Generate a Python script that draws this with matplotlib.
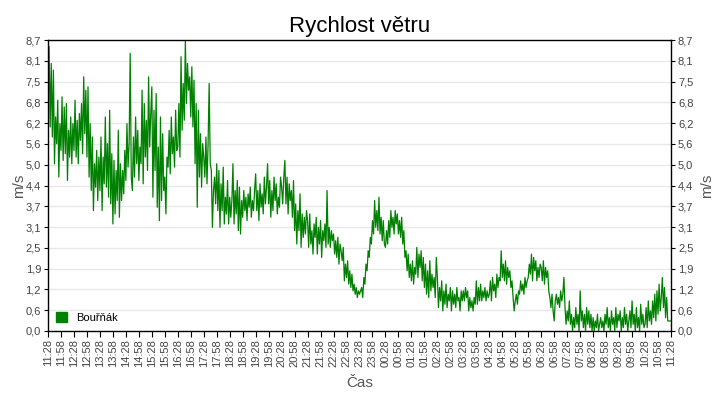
import numpy as np
import matplotlib
matplotlib.use("Agg")
import matplotlib.pyplot as plt
from matplotlib.patches import Patch

plt.rcParams['font.family'] = ['Liberation Sans', 'DejaVu Sans']

title = "Rychlost větru"
series_name = "Bouřňák"
x_label = "Čas"
y_label = "m/s"
sample_minutes = 2.5

wind = [
    7.0, 8.5, 6.1, 8.0, 5.8, 7.8, 5.0, 6.4, 5.6, 6.9, 4.6, 6.2, 5.4, 7.0, 5.1, 6.7, 5.3, 6.8, 4.5, 6.0, 5.2, 6.4, 5.0, 6.2,
    5.4, 6.9, 5.2, 6.3, 5.0, 6.5, 5.7, 6.8, 5.3, 7.6, 5.9, 7.2, 5.2, 7.3, 4.6, 6.2, 4.2, 5.8, 3.6, 5.0, 4.3, 5.4, 3.9, 5.2,
    4.2, 5.8, 3.6, 5.2, 4.4, 6.4, 4.3, 5.6, 4.0, 6.6, 3.8, 5.3, 3.2, 5.1, 3.5, 4.8, 3.9, 6.0, 3.4, 5.0, 3.9, 4.8, 4.1, 5.4,
    4.5, 6.2, 4.9, 5.6, 8.3, 4.6, 4.2, 5.8, 4.6, 6.4, 5.0, 6.0, 4.5, 5.5, 5.0, 7.2, 4.4, 6.8, 5.2, 6.3, 4.8, 7.6, 5.5, 6.5,
    7.3, 4.0, 6.6, 4.8, 7.1, 3.7, 5.5, 3.3, 6.4, 3.9, 5.9, 4.2, 4.6, 3.5, 5.2, 4.9, 6.0, 4.7, 6.4, 5.3, 5.8, 4.9, 6.6, 5.4,
    5.5, 6.8, 5.2, 8.2, 6.0, 7.4, 6.3, 8.7, 6.8, 8.0, 7.2, 7.6, 6.4, 7.9, 6.1, 7.5, 5.0, 6.8, 3.7, 6.6, 4.6, 5.9, 4.3, 5.6,
    5.2, 4.6, 5.8, 4.4, 5.6, 7.4, 5.0, 4.8, 3.1, 4.2, 4.6, 3.8, 5.0, 3.6, 4.8, 3.1, 4.4, 3.6, 4.9, 3.2, 4.0, 3.5, 4.5, 3.2,
    4.0, 3.4, 3.9, 5.0, 3.2, 4.2, 3.5, 4.5, 3.0, 4.3, 2.9, 3.9, 3.4, 4.2, 3.6, 4.0, 3.3, 4.1, 3.7, 4.3, 3.4, 3.9, 3.6, 4.2,
    4.7, 3.6, 4.2, 3.3, 4.4, 3.7, 4.1, 3.5, 4.6, 3.8, 4.3, 5.0, 3.8, 4.5, 3.4, 4.2, 3.6, 4.6, 3.9, 4.4, 3.5, 4.0, 3.7, 4.6,
    4.3, 3.8, 4.6, 5.1, 3.8, 4.6, 3.5, 4.4, 3.9, 4.2, 3.4, 4.5, 3.0, 3.8, 2.6, 3.6, 3.0, 4.1, 2.5, 3.5, 2.8, 3.4, 2.9, 3.6,
    3.3, 2.5, 3.5, 2.6, 3.0, 2.3, 3.2, 2.8, 3.4, 2.3, 3.1, 2.6, 3.3, 2.2, 3.0, 2.7, 3.2, 2.5, 4.2, 2.6, 3.1, 2.5, 3.0, 2.7,
    2.9, 2.3, 2.7, 2.2, 2.8, 2.0, 2.6, 2.4, 2.1, 2.5, 1.5, 2.0, 1.6, 2.1, 1.4, 1.8, 1.3, 1.7, 1.2, 1.4, 1.1, 1.3, 1.0, 1.2,
    1.1, 1.2, 1.3, 1.0, 1.6, 1.4, 2.0, 1.8, 2.4, 2.2, 2.8, 2.6, 3.3, 2.9, 3.9, 3.1, 3.6, 3.0, 4.0, 2.9, 3.4, 2.7, 3.3, 2.6,
    2.5, 3.0, 2.6, 3.3, 2.8, 3.6, 3.1, 3.4, 2.9, 3.6, 3.2, 3.5, 2.9, 3.3, 2.8, 3.4, 2.6, 3.0, 2.2, 2.4, 1.8, 2.3, 1.6, 2.0,
    1.5, 2.1, 1.4, 1.9, 1.7, 2.5, 1.6, 2.3, 1.9, 2.4, 1.5, 2.2, 1.3, 2.0, 1.1, 1.8, 1.0, 2.1, 1.2, 1.7, 1.3, 1.6, 1.0, 2.2,
    1.6, 0.7, 1.3, 0.9, 1.5, 0.6, 1.2, 0.8, 1.4, 0.7, 1.1, 0.9, 1.3, 0.6, 1.2, 0.8, 1.1, 0.7, 1.3, 0.9, 1.0, 0.6, 1.2, 0.9,
    1.2, 0.9, 1.3, 1.0, 1.2, 0.6, 1.0, 0.7, 0.9, 0.6, 1.0, 0.8, 1.5, 0.8, 1.3, 0.9, 1.4, 0.9, 1.2, 1.0, 1.3, 0.9, 1.2, 1.0,
    1.1, 1.5, 0.9, 1.6, 1.2, 1.4, 1.0, 1.7, 1.3, 1.6, 1.5, 2.4, 1.6, 2.0, 1.5, 2.1, 1.4, 1.9, 1.6, 1.8, 1.3, 1.5, 1.0, 0.6,
    0.9, 1.1, 0.8, 1.2, 1.1, 1.5, 1.2, 1.4, 1.1, 1.6, 1.3, 1.5, 1.6, 2.0, 1.7, 2.3, 1.5, 2.2, 1.8, 2.1, 1.5, 1.9, 1.6, 2.0,
    1.9, 1.5, 2.1, 1.4, 1.9, 1.6, 1.8, 1.2, 1.0, 0.7, 1.1, 0.6, 0.3, 0.9, 1.1, 0.8, 1.0, 0.7, 1.2, 0.9, 1.1, 1.6, 0.7, 0.2,
    0.6, 0.3, 0.9, 0.2, 0.5, 0.0, 0.4, 0.1, 0.7, 0.2, 0.5, 0.0, 1.2, 0.3, 0.6, 0.1, 0.5, 0.0, 0.7, 0.2, 0.6, 0.1, 0.5, 0.0,
    0.4, 0.0, 0.3, 0.1, 0.5, 0.0, 0.2, 0.4, 0.1, 0.3, 0.0, 0.5, 0.2, 0.7, 0.1, 0.4, 0.0, 0.6, 0.2, 0.4, 0.0, 0.7, 0.1, 0.5,
    0.3, 0.6, 0.0, 0.4, 0.1, 0.7, 0.2, 0.5, 0.0, 0.3, 0.6, 0.1, 0.9, 0.2, 0.5, 0.0, 0.7, 0.1, 0.4, 0.0, 0.8, 0.2, 0.5, 0.1,
    0.2, 0.7, 0.1, 0.9, 0.3, 0.6, 0.2, 0.9, 0.4, 1.1, 0.3, 1.2, 0.5, 1.4, 0.6, 1.0, 1.6, 0.7, 1.3, 0.4, 1.0, 0.3, 0.3, 0.3,
    0.3,
]

x_tick_labels = [
    "11:28", "11:58", "12:28", "12:58", "13:28", "13:58", "14:28", "14:58",
    "15:28", "15:58", "16:28", "16:58", "17:28", "17:58", "18:28", "18:58",
    "19:28", "19:58", "20:28", "20:58", "21:28", "21:58", "22:28", "22:58",
    "23:28", "23:58", "00:28", "00:58", "01:28", "01:58", "02:28", "02:58",
    "03:28", "03:58", "04:28", "04:58", "05:28", "05:58", "06:28", "06:58",
    "07:28", "07:58", "08:28", "08:58", "09:28", "09:58", "10:28", "10:58",
    "11:28",
]
x_tick_step = 30  # minutes

y_max = 8.7
y_tick_labels = ["0,0", "0,6", "1,2", "1,9", "2,5", "3,1", "3,7", "4,4",
                 "5,0", "5,6", "6,2", "6,8", "7,5", "8,1", "8,7"]

green = "#008000"
grey = "#444444"

x = np.arange(len(wind)) * sample_minutes
y_ticks = np.linspace(0, y_max, len(y_tick_labels))
x_ticks = np.arange(len(x_tick_labels)) * x_tick_step

fig = plt.figure(figsize=(7.2, 4.0), dpi=100)
ax = fig.add_axes([48/720, 1-331/400, (671-48)/720, (331-40)/400])

ax.plot(x, wind, color=green, lw=0.9)

ax.set_xlim(0, x_ticks[-1])
ax.set_ylim(0, y_max)
ax.set_yticks(y_ticks)
ax.set_yticklabels(y_tick_labels)
ax.set_xticks(x_ticks)
ax.set_xticklabels(x_tick_labels, rotation=90)

ax.yaxis.grid(True, color="#e8e8e8", lw=1.0)
ax.set_axisbelow(True)

ax.tick_params(axis='x', length=4, width=0.8, color='black', labelsize=8,
               labelcolor=grey, pad=2)
ax.tick_params(axis='y', length=3, width=0.8, color='black', labelsize=8,
               labelcolor=grey, pad=2, left=True, right=True,
               labelleft=True, labelright=True)
for s in ax.spines.values():
    s.set_color('black')
    s.set_linewidth(1.0)

ax.set_title(title, fontsize=16, color='black', pad=6)
ax.set_xlabel(x_label, fontsize=11, color="#555555", labelpad=6)
ax.set_ylabel(y_label, fontsize=11, color="#555555", labelpad=0)
ax2 = ax.secondary_yaxis('right')
ax2.set_yticks([])
ax2.spines['right'].set_visible(False)
ax2.set_ylabel(y_label, fontsize=11, color="#555555", labelpad=21)

ax.legend(handles=[Patch(facecolor=green, edgecolor=green, label=series_name)],
          loc='lower left', frameon=False, fontsize=8,
          handlelength=1.0, handleheight=1.0, handletextpad=0.8,
          borderaxespad=0.3)

fig.savefig("out.png", dpi=100)
